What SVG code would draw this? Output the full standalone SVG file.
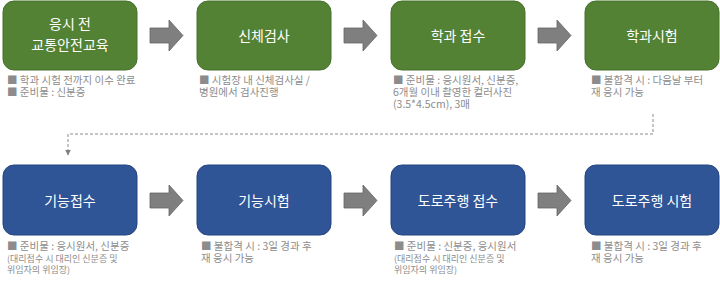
<svg xmlns="http://www.w3.org/2000/svg" width="720" height="294" viewBox="0 0 720 294">
<defs>
<style>
.g{fill:#548235;stroke:#46702b;stroke-width:1}
.b{fill:#2f5597;stroke:#24457f;stroke-width:1}
.t{font-family:"Noto Sans CJK KR","Noto Sans",sans-serif;font-size:14px;fill:#ffffff;text-anchor:middle}
.c{font-family:"Noto Sans CJK KR","Noto Sans",sans-serif;font-size:10.5px;fill:#8c8c8c}
.s{font-family:"Noto Sans CJK KR","Noto Sans",sans-serif;font-size:9px;fill:#8c8c8c}
.ar{fill:#7f7f7f;stroke:#666666;stroke-width:0.8}
.dash{fill:none;stroke:#8c8c8c;stroke-width:1;stroke-dasharray:3,2}
</style>
<marker id="ah" viewBox="0 0 10 10" refX="9" refY="5" markerWidth="6" markerHeight="6" orient="auto" markerUnits="userSpaceOnUse">
<path d="M0,0 L10,5 L0,10 z" fill="#7f7f7f"/>
</marker>
<polygon id="arrow" points="0,8 19,8 19,0 33,15.5 19,31 19,23 0,23"/>
</defs>

<g id="connectors">
<use href="#arrow" class="ar" x="150" y="20"/>
<use href="#arrow" class="ar" x="344" y="20"/>
<use href="#arrow" class="ar" x="538" y="20"/>
<use href="#arrow" class="ar" x="150" y="185"/>
<use href="#arrow" class="ar" x="344" y="185"/>
<use href="#arrow" class="ar" x="538" y="185"/>
<path class="dash" d="M653,114 L653,134 L68,134 L68,155" marker-end="url(#ah)"/>
</g>

<g id="node1">
<rect class="g" x="3" y="1" width="134" height="69" rx="11"/>
<text class="t" x="70" y="29">응시 전</text>
<text class="t" x="70" y="50">교통안전교육</text>
<text class="c" x="7" y="84">■ 학과 시험 전까지 이수 완료</text>
<text class="c" x="7" y="96">■ 준비물 : 신분증</text>
</g>

<g id="node2">
<rect class="g" x="197" y="1" width="134" height="69" rx="11"/>
<text class="t" x="264" y="40.5">신체검사</text>
<text class="c" x="199" y="84">■ 시험장 내 신체검사실 /</text>
<text class="c" x="199" y="96">병원에서 검사진행</text>
</g>

<g id="node3">
<rect class="g" x="391" y="1" width="134" height="69" rx="11"/>
<text class="t" x="458" y="40.5">학과 접수</text>
<text class="c" x="393" y="84">■ 준비물 : 응시원서, 신분증,</text>
<text class="c" x="393" y="96">6개월 이내 촬영한 컬러사진</text>
<text class="c" x="393" y="108">(3.5*4.5cm), 3매</text>
</g>

<g id="node4">
<rect class="g" x="585" y="1" width="134" height="69" rx="11"/>
<text class="t" x="652" y="40.5">학과시험</text>
<text class="c" x="591" y="84">■ 불합격 시 : 다음날 부터</text>
<text class="c" x="591" y="96">재 응시 가능</text>
</g>

<g id="node5">
<rect class="b" x="3" y="165" width="134" height="70" rx="11"/>
<text class="t" x="70" y="205.5">기능접수</text>
<text class="c" x="7" y="250">■ 준비물 : 응시원서, 신분증</text>
<text class="s" x="7" y="262">(대리접수 시 대리인 신분증 및</text>
<text class="s" x="7" y="273">위임자의 위임장)</text>
</g>

<g id="node6">
<rect class="b" x="197" y="165" width="134" height="70" rx="11"/>
<text class="t" x="264" y="205.5">기능시험</text>
<text class="c" x="201" y="250">■ 불합격 시 : 3일 경과 후</text>
<text class="c" x="201" y="262">재 응시 가능</text>
</g>

<g id="node7">
<rect class="b" x="391" y="165" width="134" height="70" rx="11"/>
<text class="t" x="458" y="205.5">도로주행 접수</text>
<text class="c" x="394" y="250">■ 준비물 : 신분증, 응시원서</text>
<text class="s" x="394" y="262">(대리접수 시 대리인 신분증 및</text>
<text class="s" x="394" y="273">위임자의 위임장)</text>
</g>

<g id="node8">
<rect class="b" x="585" y="165" width="134" height="70" rx="11"/>
<text class="t" x="652" y="205.5">도로주행 시험</text>
<text class="c" x="591" y="250">■ 불합격 시 : 3일 경과 후</text>
<text class="c" x="591" y="262">재 응시 가능</text>
</g>
</svg>
